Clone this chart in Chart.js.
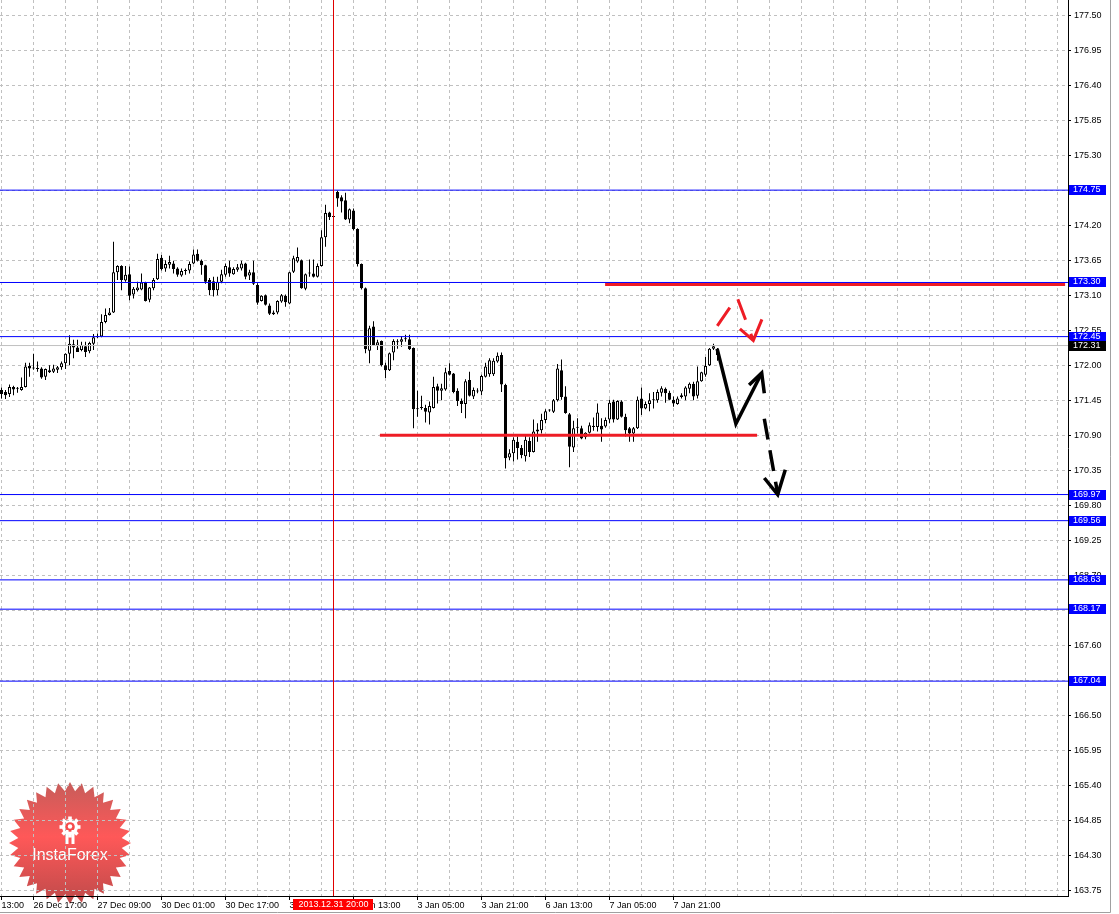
<!DOCTYPE html>
<html>
<head>
<meta charset="utf-8">
<title>H1 chart</title>
<script src="https://cdn.jsdelivr.net/npm/chart.js@4.4.1/dist/chart.umd.min.js"></script>
<style>
  html, body { margin: 0; padding: 0; background: #ffffff; }
</style>
</head>
<body>
<canvas id="price-chart" width="1119" height="914"></canvas>
<script>
// hourly candles, one slot per bar
let opens = [
    171.61,171.58,171.55,171.66,171.63,171.61,171.66,171.99,171.95,171.95,
    171.95,171.82,171.92,171.90,171.93,171.97,172.03,172.18,172.33,172.28,
    172.24,172.30,172.22,172.34,172.44,172.45,172.68,172.79,172.83,173.46,
    173.56,173.33,173.43,173.11,173.18,173.19,173.30,173.03,173.21,173.35,
    173.69,173.52,173.58,173.60,173.52,173.41,173.48,173.49,173.60,173.75,
    173.64,173.57,173.34,173.32,173.18,173.31,173.42,173.54,173.43,173.50,
    173.52,173.60,173.41,173.46,173.26,173.01,173.10,172.94,172.80,172.83,
    173.00,173.09,172.97,173.47,173.63,173.65,173.20,173.44,173.44,173.39,
    173.56,174.01,174.40,174.33,174.72,174.64,174.59,174.29,174.43,174.14,
    173.59,173.21,172.23,172.61,172.31,172.38,172.00,171.92,172.20,172.36,
    172.37,172.41,172.41,172.27,171.31,171.33,171.33,171.26,171.33,171.67,
    171.60,171.62,171.91,171.87,171.60,171.44,171.39,171.77,171.51,171.59,
    171.59,171.82,171.86,171.86,172.06,172.16,171.69,170.55,170.62,170.80,
    170.70,170.57,170.81,170.64,170.99,170.98,171.14,171.29,171.27,171.45,
    171.92,171.51,171.23,170.71,171.02,171.01,170.87,170.94,171.03,171.03,
    171.05,171.04,171.15,171.43,171.15,171.43,171.19,171.01,170.93,171.01,
    171.48,171.32,171.39,171.45,171.45,171.57,171.63,171.57,171.46,171.39,
    171.50,171.51,171.63,171.71,171.52,171.75,171.85,172.00,172.26,172.26
]
let highs = [
    171.65,171.61,171.70,171.68,171.66,171.81,172.04,172.04,172.18,172.06,
    171.97,171.95,172.00,172.01,171.99,172.06,172.19,172.47,172.40,172.40,
    172.37,172.37,172.37,172.49,172.50,172.80,172.89,172.90,173.94,173.57,
    173.57,173.56,173.55,173.23,173.31,173.44,173.31,173.23,173.37,173.75,
    173.73,173.65,173.72,173.64,173.54,173.52,173.52,173.63,173.82,173.82,
    173.66,173.58,173.37,173.39,173.39,173.50,173.60,173.64,173.54,173.59,
    173.64,173.61,173.50,173.64,173.29,173.10,173.11,172.97,172.86,173.02,
    173.12,173.11,173.47,173.72,173.85,173.66,173.44,173.66,173.66,173.60,
    174.12,174.52,174.41,174.36,174.74,174.67,174.71,174.46,174.46,174.15,
    173.60,173.22,172.62,172.69,172.40,172.39,172.04,172.20,172.41,172.41,
    172.46,172.48,172.48,172.28,171.60,171.52,171.38,171.43,171.82,171.71,
    171.71,171.96,172.03,171.88,171.64,171.48,171.78,171.90,171.65,171.64,
    171.85,172.04,172.11,172.11,172.20,172.20,171.71,170.68,170.87,170.88,
    170.75,170.89,170.87,171.15,171.09,171.24,171.31,171.31,171.47,172.02,
    172.09,171.67,171.25,171.13,171.17,171.05,170.95,171.10,171.18,171.40,
    171.17,171.18,171.46,171.46,171.45,171.45,171.24,171.03,171.03,171.51,
    171.65,171.43,171.56,171.58,171.62,171.67,171.65,171.60,171.51,171.51,
    171.56,171.67,171.73,171.74,171.98,171.90,172.13,172.27,172.34,172.27
]
let lows = [
    171.48,171.47,171.50,171.53,171.57,171.60,171.65,171.82,171.93,171.90,
    171.79,171.77,171.88,171.88,171.88,171.93,171.94,172.00,172.11,172.21,
    172.22,172.13,172.19,172.24,172.43,172.44,172.66,172.78,172.82,173.34,
    173.18,173.31,173.02,173.05,173.16,173.18,173.00,172.99,173.18,173.34,
    173.49,173.47,173.52,173.44,173.39,173.39,173.42,173.44,173.59,173.63,
    173.42,173.28,173.10,173.08,173.10,173.29,173.39,173.39,173.42,173.47,
    173.49,173.35,173.34,173.26,172.95,173.00,172.94,172.79,172.79,172.80,
    172.98,172.92,172.96,173.45,173.61,173.20,173.18,173.39,173.38,173.38,
    173.55,173.86,174.28,174.31,174.49,174.40,174.28,174.23,174.12,173.55,
    173.19,172.19,172.03,172.31,172.24,171.98,171.80,171.91,172.08,172.26,
    172.29,172.37,172.24,171.01,171.19,171.30,171.10,171.07,171.32,171.40,
    171.45,171.60,171.84,171.56,171.36,171.25,171.17,171.51,171.47,171.56,
    171.53,171.81,171.82,171.83,172.04,171.58,170.38,170.51,170.49,170.52,
    170.54,170.49,170.56,170.63,170.80,170.93,171.09,171.27,171.25,171.43,
    171.46,171.24,170.40,170.64,170.93,170.84,170.84,170.93,170.97,170.96,
    170.80,171.02,171.09,171.10,171.14,171.18,170.88,170.80,170.80,171.00,
    171.22,171.31,171.28,171.32,171.41,171.51,171.41,171.45,171.35,171.38,
    171.48,171.45,171.56,171.45,171.48,171.74,171.82,171.99,172.24,172.07
]
let closes = [
    171.55,171.53,171.66,171.62,171.64,171.66,171.98,171.95,171.95,171.94,
    171.81,171.94,171.89,171.95,171.97,172.03,172.18,172.34,172.28,172.21,
    172.32,172.21,172.35,172.44,172.46,172.68,172.79,172.83,173.46,173.56,
    173.34,173.42,173.09,173.20,173.22,173.30,173.01,173.22,173.34,173.67,
    173.51,173.59,173.62,173.51,173.42,173.48,173.48,173.59,173.74,173.64,
    173.57,173.31,173.18,173.18,173.31,173.43,173.56,173.44,173.51,173.54,
    173.60,173.39,173.46,173.28,172.98,173.09,172.95,172.81,172.83,173.01,
    173.10,172.99,173.46,173.68,173.70,173.21,173.43,173.44,173.39,173.56,
    174.01,174.39,174.33,174.33,174.62,174.57,174.29,174.45,174.14,173.59,
    173.21,172.25,172.58,172.32,172.36,172.00,171.92,172.19,172.38,172.36,
    172.41,172.41,172.25,171.31,171.32,171.34,171.27,171.36,171.66,171.60,
    171.64,171.89,171.85,171.58,171.44,171.39,171.75,171.52,171.61,171.59,
    171.83,171.98,172.08,172.07,172.15,171.70,170.54,170.62,170.83,170.70,
    170.59,170.83,170.64,170.96,170.96,171.14,171.28,171.30,171.45,171.95,
    171.50,171.25,170.72,171.01,171.02,170.85,170.94,171.06,171.05,171.26,
    170.99,171.14,171.41,171.15,171.44,171.19,170.98,170.93,171.01,171.46,
    171.32,171.39,171.45,171.45,171.58,171.64,171.56,171.46,171.40,171.48,
    171.53,171.65,171.71,171.51,171.75,171.89,171.99,172.26,172.30,172.16
]

// time axis: slot of each label (first one is cut off at the left edge)
let timeLabelSlots = [0, 8, 24, 40, 56, 72, 88, 104, 120, 136, 152, 168]
let timeLabels = ['13:00', '26 Dec 17:00', '27 Dec 09:00', '30 Dec 01:00', '30 Dec 17:00',
    '31 Dec 09:00', '2 Jan 13:00', '3 Jan 05:00', '3 Jan 21:00', '6 Jan 13:00',
    '7 Jan 05:00', '7 Jan 21:00']

let priceTicks = [163.75, 164.30, 164.85, 165.40, 165.95, 166.50, 167.05, 167.60, 168.15,
    168.70, 169.25, 169.80, 170.35, 170.90, 171.45, 172.00, 172.55, 173.10, 173.65,
    174.20, 174.75, 175.30, 175.85, 176.40, 176.95, 177.50]

// horizontal levels drawn on the chart
let levelPrices = [174.75, 173.30, 172.45, 169.97, 169.56, 168.63, 168.17, 167.04]
let bidPrice = 172.31
let supportSlots = [94.6, 188.9]
let supportPrice = 170.90
let resistanceSlots = [150.9, 265.9]
let resistancePrice = 173.27

// hand drawn forecast arrows: [slot, price]
let redPath = [[178.95, 172.62], [183.9, 173.07], [187.95, 172.39]]
let redHead = [[184.6, 172.57], [187.95, 172.39], [190.1, 172.72]]
let solidPath = [[178.9, 172.26], [183.6, 171.08], [190.05, 171.88]]
let solidHead = [[186.9, 171.69], [190.05, 171.88], [190.7, 171.56]]
let dashedPath = [[190.7, 171.16], [194.05, 169.98]]
let dashedHead = [[190.7, 170.23], [194.05, 169.97], [195.95, 170.36]]

let crosshairSlot = 83
let crosshairText = '2013.12.31 20:00'

let slotMin = -0.375
let slotMax = 266.625
let priceMin = 163.666
let priceMax = 177.736

let gridSlots = []
for (let s = 0; s <= 264; s += 8) {
    gridSlots.push(s)
}

function timeLabelAt(slot) {
    let i = timeLabelSlots.indexOf(slot)
    return i == -1 ? '' : timeLabels[i]
}

let bodyData = opens.map((o, i) => ({x: i, y: [o, closes[i]]}))
let wickData = opens.map((o, i) => ({x: i, y: [lows[i], highs[i]]}))
let bodyFill = opens.map((o, i) => closes[i] >= o ? '#ffffff' : '#000000')

function lineSet(points, color, width, dash) {
    return {
        type: 'line',
        data: points.map(p => ({x: p[0], y: p[1]})),
        borderColor: color,
        borderWidth: width,
        borderDash: dash || [],
        borderCapStyle: 'butt',
        borderJoinStyle: 'miter',
        pointRadius: 0,
        fill: false,
        tension: 0
    }
}

let datasets = [
    lineSet(redPath, '#ee1c25', 3, [22, 15]),
    lineSet(redHead, '#ee1c25', 3),
    lineSet(solidPath, '#000000', 3.5),
    lineSet(solidHead, '#000000', 3.5),
    lineSet(dashedPath, '#000000', 3.5, [21, 11]),
    lineSet(dashedHead, '#000000', 3.5),
    lineSet(supportSlots.map(s => [s, supportPrice]), '#ee1c25', 3),
    lineSet(resistanceSlots.map(s => [s, resistancePrice]), '#ee1c25', 3)
]
levelPrices.forEach(function(p) {
    datasets.push(lineSet([[slotMin, p], [slotMax, p]], '#0000ff', 1))
})
datasets.push(lineSet([[slotMin, bidPrice], [slotMax, bidPrice]], '#c0c0c0', 1))
datasets.push({
    type: 'bar',
    data: bodyData,
    backgroundColor: bodyFill,
    borderColor: '#000000',
    borderWidth: 1,
    borderSkipped: false,
    barThickness: 3,
    minBarLength: 1,
    inflateAmount: 0,
    grouped: false
})
datasets.push({
    type: 'bar',
    data: wickData,
    backgroundColor: '#000000',
    borderWidth: 0,
    barThickness: 1,
    inflateAmount: 0,
    grouped: false
})

function drawLogo(ctx) {
    let cx = 70, cy = 843, outer = 61, inner = 52, spikes = 32
    ctx.save()
    ctx.globalAlpha = 0.92
    let grad = ctx.createLinearGradient(0, cy - outer, 0, cy + outer)
    grad.addColorStop(0, '#c24f4c')
    grad.addColorStop(0.45, '#ff4a4a')
    grad.addColorStop(1, '#b93b3b')
    ctx.beginPath()
    for (let i = 0; i < spikes * 2; i++) {
        let r = i % 2 ? inner : outer
        let a = -Math.PI / 2 + i * Math.PI / spikes
        let px = cx + r * Math.cos(a), py = cy + r * Math.sin(a)
        if (i == 0) ctx.moveTo(px, py)
        else ctx.lineTo(px, py)
    }
    ctx.closePath()
    ctx.fillStyle = grad
    ctx.fill()

    // gear with a little figure inside
    ctx.globalAlpha = 1
    ctx.fillStyle = '#ffffff'
    let gx = 70, gy = 827
    for (let t = 0; t < 8; t++) {
        ctx.save()
        ctx.translate(gx, gy)
        ctx.rotate(t * Math.PI / 4)
        ctx.fillRect(-1.8, -10.5, 3.6, 4)
        ctx.restore()
    }
    ctx.beginPath()
    ctx.arc(gx, gy, 8, 0, Math.PI * 2)
    ctx.fill()
    ctx.fillStyle = '#f64c4c'
    ctx.beginPath()
    ctx.arc(gx, gy, 4.8, 0, Math.PI * 2)
    ctx.fill()
    ctx.fillStyle = '#ffffff'
    ctx.beginPath()
    ctx.arc(gx, gy - 0.5, 2.2, 0, Math.PI * 2)
    ctx.fill()
    ctx.fillRect(gx - 4.5, gy + 3, 3, 14)
    ctx.fillRect(gx + 1.5, gy + 3, 3, 14)
    ctx.font = '16px "Liberation Sans", Arial, sans-serif'
    ctx.textAlign = 'center'
    ctx.textBaseline = 'middle'
    ctx.fillText('InstaForex', cx, 856)
    ctx.restore()
}

let chartDecor = {
    id: 'chartDecor',
    beforeDraw(chart) {
        drawLogo(chart.ctx)
    },
    afterDatasetsDraw(chart) {
        let ctx = chart.ctx
        let area = chart.chartArea
        let x = Math.floor(chart.scales.x.getPixelForValue(crosshairSlot)) + 0.5
        ctx.save()
        ctx.strokeStyle = '#e00000'
        ctx.lineWidth = 1
        ctx.beginPath()
        ctx.moveTo(x, area.top)
        ctx.lineTo(x, area.bottom)
        ctx.stroke()
        ctx.restore()
    },
    afterDraw(chart) {
        let ctx = chart.ctx
        let area = chart.chartArea
        let yScale = chart.scales.y
        ctx.save()
        ctx.font = '9px "Liberation Sans", Arial, sans-serif'
        ctx.textBaseline = 'middle'
        ctx.textAlign = 'left'

        let tag = function(price, bg) {
            let y = Math.round(yScale.getPixelForValue(price))
            ctx.fillStyle = bg
            ctx.fillRect(area.right + 1, y - 5, 37, 10)
            ctx.fillStyle = '#ffffff'
            ctx.fillText(price.toFixed(2), area.right + 5, y)
        }
        levelPrices.forEach(p => tag(p, '#0000ff'))
        tag(bidPrice, '#000000')

        // time tag under the crosshair
        let cx = Math.floor(chart.scales.x.getPixelForValue(crosshairSlot)) + 0.5
        let w = ctx.measureText(crosshairText).width + 10
        ctx.fillStyle = '#ff0000'
        ctx.fillRect(Math.round(cx - w / 2), area.bottom + 3, Math.round(w), 11)
        ctx.fillStyle = '#ffffff'
        ctx.textAlign = 'center'
        ctx.fillText(crosshairText, cx, area.bottom + 9)

        // window frame
        ctx.strokeStyle = '#a0a0a0'
        ctx.lineWidth = 1
        ctx.beginPath()
        ctx.moveTo(chart.width - 8.5, 0)
        ctx.lineTo(chart.width - 8.5, chart.height - 1.5)
        ctx.lineTo(0, chart.height - 1.5)
        ctx.stroke()
        ctx.restore()
    }
}

function noPadding(s) {
    s.paddingTop = 0
    s.paddingBottom = 0
    s.paddingLeft = 0
    s.paddingRight = 0
}

Chart.defaults.font.family = '"Liberation Sans", Arial, sans-serif'
Chart.defaults.font.size = 9
Chart.defaults.color = '#000000'

let canvas = document.querySelector('#price-chart')
let context = canvas.getContext('2d')

let chart = new Chart(context, {
    type: 'bar',
    data: { datasets: datasets },
    options: {
        responsive: false,
        animation: false,
        events: [],
        layout: { padding: { left: 0, right: 9, top: 0, bottom: 2 } },
        plugins: {
            legend: { display: false },
            tooltip: { enabled: false }
        },
        scales: {
            x: {
                type: 'linear',
                min: slotMin,
                max: slotMax,
                offset: false,
                afterBuildTicks: s => { s.ticks = gridSlots.map(v => ({value: v})) },
                afterFit: s => { s.height = 16; noPadding(s) },
                grid: {
                    offset: false,
                    color: '#c0c0c0',
                    lineWidth: 1,
                    tickLength: 4,
                    tickColor: c => (c.tick && timeLabelAt(c.tick.value)) ? '#000000' : 'rgba(0,0,0,0)'
                },
                border: { color: '#000000', width: 1, dash: [3, 3] },
                ticks: {
                    autoSkip: false,
                    maxRotation: 0,
                    minRotation: 0,
                    align: 'start',
                    padding: 0,
                    callback: v => timeLabelAt(v)
                }
            },
            y: {
                position: 'right',
                min: priceMin,
                max: priceMax,
                afterBuildTicks: s => { s.ticks = priceTicks.map(v => ({value: v})) },
                afterFit: s => { s.width = 42; noPadding(s) },
                grid: { color: '#c0c0c0', lineWidth: 1, tickLength: 3, tickColor: '#000000' },
                border: { color: '#000000', width: 1, dash: [3, 3] },
                ticks: {
                    autoSkip: false,
                    padding: 3,
                    callback: v => v.toFixed(2)
                }
            }
        }
    },
    plugins: [chartDecor]
})
</script>
</body>
</html>
